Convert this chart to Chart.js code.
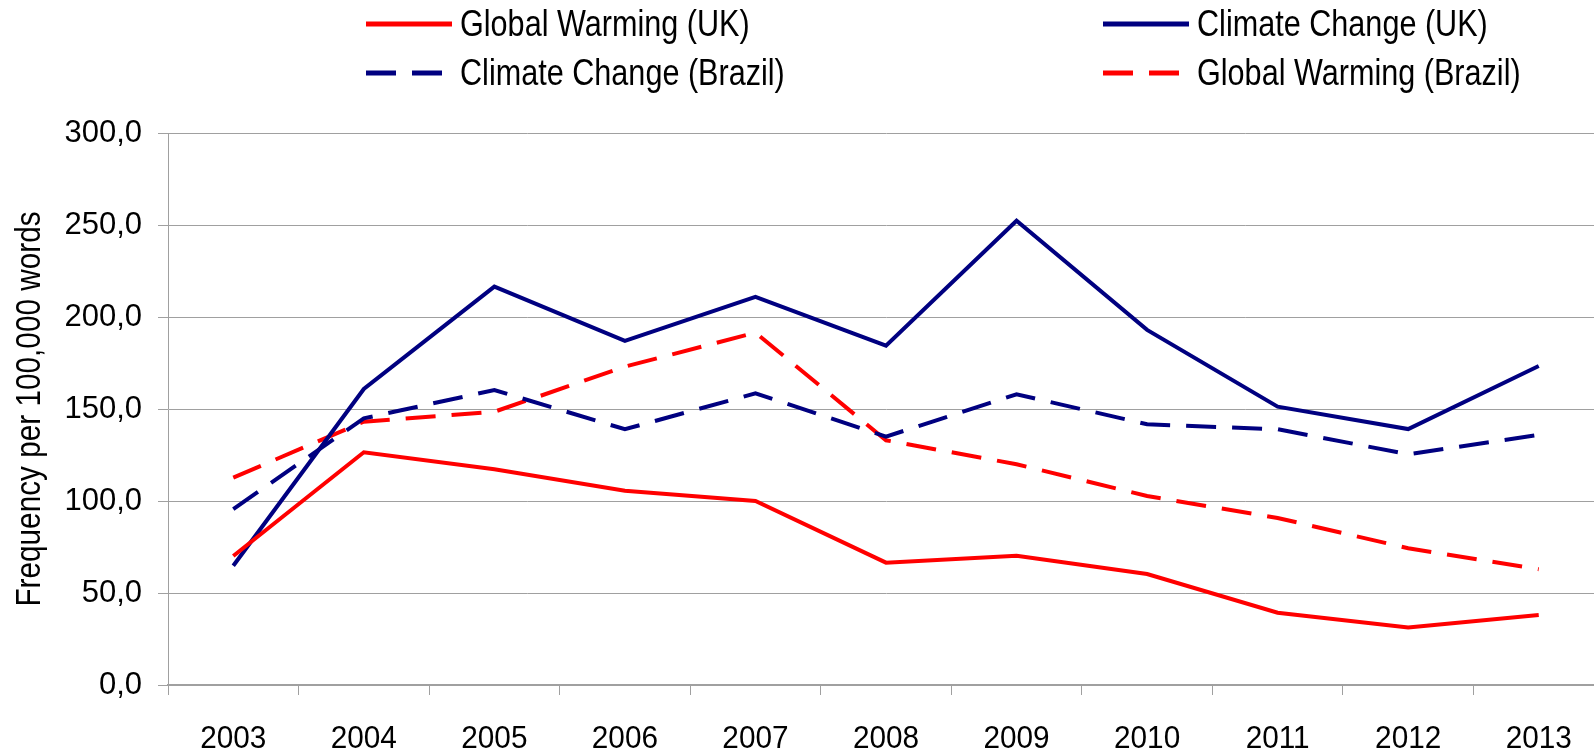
<!DOCTYPE html>
<html>
<head>
<meta charset="utf-8">
<title>Frequency per 100,000 words</title>
<script src="https://cdn.jsdelivr.net/npm/chart.js@4.4.0/dist/chart.umd.min.js"></script>
<style>
    html, body {
        margin: 0;
        padding: 0;
        background: #fff;
        overflow: hidden;
    }
    #wrap {
        position: relative;
        width: 1594px;
        height: 755px;
        overflow: hidden;
    }
    #freqChart {
        position: absolute;
        left: 0;
        top: 0;
    }
    .legend-item {
        position: absolute;
        display: flex;
        align-items: center;
        height: 44px;
        font-family: 'Liberation Sans', Arial, sans-serif;
        font-size: 36px;
        color: #000;
        white-space: nowrap;
    }
    .legend-item svg {
        margin-right: 8px;
    }
    .legend-item span {
        display: inline-block;
        transform: scaleX(0.85);
        transform-origin: left center;
    }
</style>
</head>
<body>
<div id="wrap">
    <canvas id="freqChart" width="1620" height="755"></canvas>
    <div id="legend"></div>
</div>

<script>
// ข้อมูล (อ่านค่าจากกราฟ)
const years = ['2003', '2004', '2005', '2006', '2007', '2008', '2009', '2010', '2011', '2012', '2013'];
const globalWarmingUK = [70.1, 126.5, 117.2, 105.6, 100.0, 66.5, 70.3, 60.3, 39.3, 31.2, 38.0];
const climateChangeUK = [64.8, 160.9, 216.5, 187.0, 211.0, 184.4, 252.3, 193.0, 151.3, 139.1, 173.4];
const climateChangeBR = [95.6, 144.9, 160.3, 139.0, 158.5, 135.0, 158.0, 141.7, 139.0, 125.4, 135.9];
const globalWarmingBR = [112.7, 143.1, 148.5, 173.0, 191.5, 133.0, 120.0, 102.7, 90.8, 74.3, 62.9];
const yTicks = [0, 50, 100, 150, 200, 250, 300];
const yTitle = 'Frequency per 100,000 words';

const RED = '#ff0000';
const NAVY = '#000080';
const DASH = [30, 16];
const GRID = '#a0a0a0';

function makeSeries(label, data, color, dashed) {
    return {
        label: label,
        data: data,
        borderColor: color,
        backgroundColor: color,
        borderWidth: 4,
        borderDash: dashed ? DASH : [],
        borderCapStyle: 'butt',
        borderJoinStyle: 'miter',
        pointRadius: 0,
        pointHoverRadius: 0,
        tension: 0,
        fill: false
    };
}

// ตัวอักษรแบบแคบ (narrow) วาดเองด้วยการบีบแนวนอน
const narrowText = {
    id: 'narrowText',
    afterDraw(chart) {
        const c = chart.ctx;
        const xScale = chart.scales.x;

        c.save();
        c.fillStyle = '#000';
        c.font = "32px 'Liberation Sans', Arial, sans-serif";
        c.textAlign = 'center';
        c.textBaseline = 'alphabetic';
        chart.data.labels.forEach((label, i) => {
            const x = xScale.getPixelForTick(i);
            c.save();
            c.translate(x, 748);
            c.scale(0.93, 1);
            c.fillText(label, 0, 0);
            c.restore();
        });

        const midY = (chart.chartArea.top + chart.chartArea.bottom) / 2;
        c.font = "35px 'Liberation Sans', Arial, sans-serif";
        c.translate(40, midY);
        c.rotate(-Math.PI / 2);
        c.scale(0.85, 1);
        c.fillText(yTitle, 0, 0);
        c.restore();
    }
};

const ctx = document.getElementById('freqChart').getContext('2d');

const freqChart = new Chart(ctx, {
    type: 'line',
    data: {
        labels: years,
        datasets: [
            makeSeries('Global Warming (UK)', globalWarmingUK, RED, false),
            makeSeries('Climate Change (UK)', climateChangeUK, NAVY, false),
            makeSeries('Climate Change (Brazil)', climateChangeBR, NAVY, true),
            makeSeries('Global Warming (Brazil)', globalWarmingBR, RED, true)
        ]
    },
    plugins: [narrowText],
    options: {
        responsive: false,
        animation: false,
        layout: {
            padding: { left: 0, right: 16, top: 133, bottom: 0 }
        },
        plugins: {
            legend: { display: false },
            tooltip: { enabled: false }
        },
        scales: {
            x: {
                offset: true,
                afterFit: function(scale) {
                    scale.height = 70;
                },
                grid: {
                    offset: true,
                    drawOnChartArea: false,
                    drawTicks: true,
                    tickLength: 10,
                    color: GRID,
                    lineWidth: 1
                },
                border: {
                    color: GRID,
                    width: 2
                },
                ticks: {
                    display: false,
                    autoSkip: false,
                    maxRotation: 0
                }
            },
            y: {
                min: 0,
                max: 300,
                afterFit: function(scale) {
                    scale.width = 168;
                },
                afterBuildTicks: function(scale) {
                    scale.ticks = yTicks.map(v => ({ value: v }));
                },
                grid: {
                    color: GRID,
                    lineWidth: 1,
                    drawTicks: true,
                    tickLength: 10
                },
                border: {
                    color: GRID,
                    width: 1
                },
                ticks: {
                    padding: 16,
                    color: '#000',
                    font: { family: "'Liberation Sans', Arial, sans-serif", size: 31 },
                    callback: function(value) {
                        return value.toFixed(1).replace('.', ',');
                    }
                }
            }
        }
    }
});

// legend แบบ 2 คอลัมน์
function buildLegend(chart) {
    const box = document.getElementById('legend');
    const colX = [366, 1103];
    const rowY = [24, 73];
    chart.data.datasets.forEach((ds, i) => {
        const item = document.createElement('div');
        item.className = 'legend-item';
        item.style.left = colX[i % 2] + 'px';
        item.style.top = (rowY[Math.floor(i / 2)] - 22) + 'px';
        const dash = ds.borderDash.length ? ds.borderDash.join(' ') : 'none';
        item.innerHTML =
            '<svg width="86" height="10"><line x1="0" y1="5" x2="86" y2="5" stroke="' + ds.borderColor +
            '" stroke-width="5" stroke-dasharray="' + dash + '"/></svg>' +
            '<span>' + ds.label + '</span>';
        box.appendChild(item);
    });
}

buildLegend(freqChart);
</script>
</body>
</html>
